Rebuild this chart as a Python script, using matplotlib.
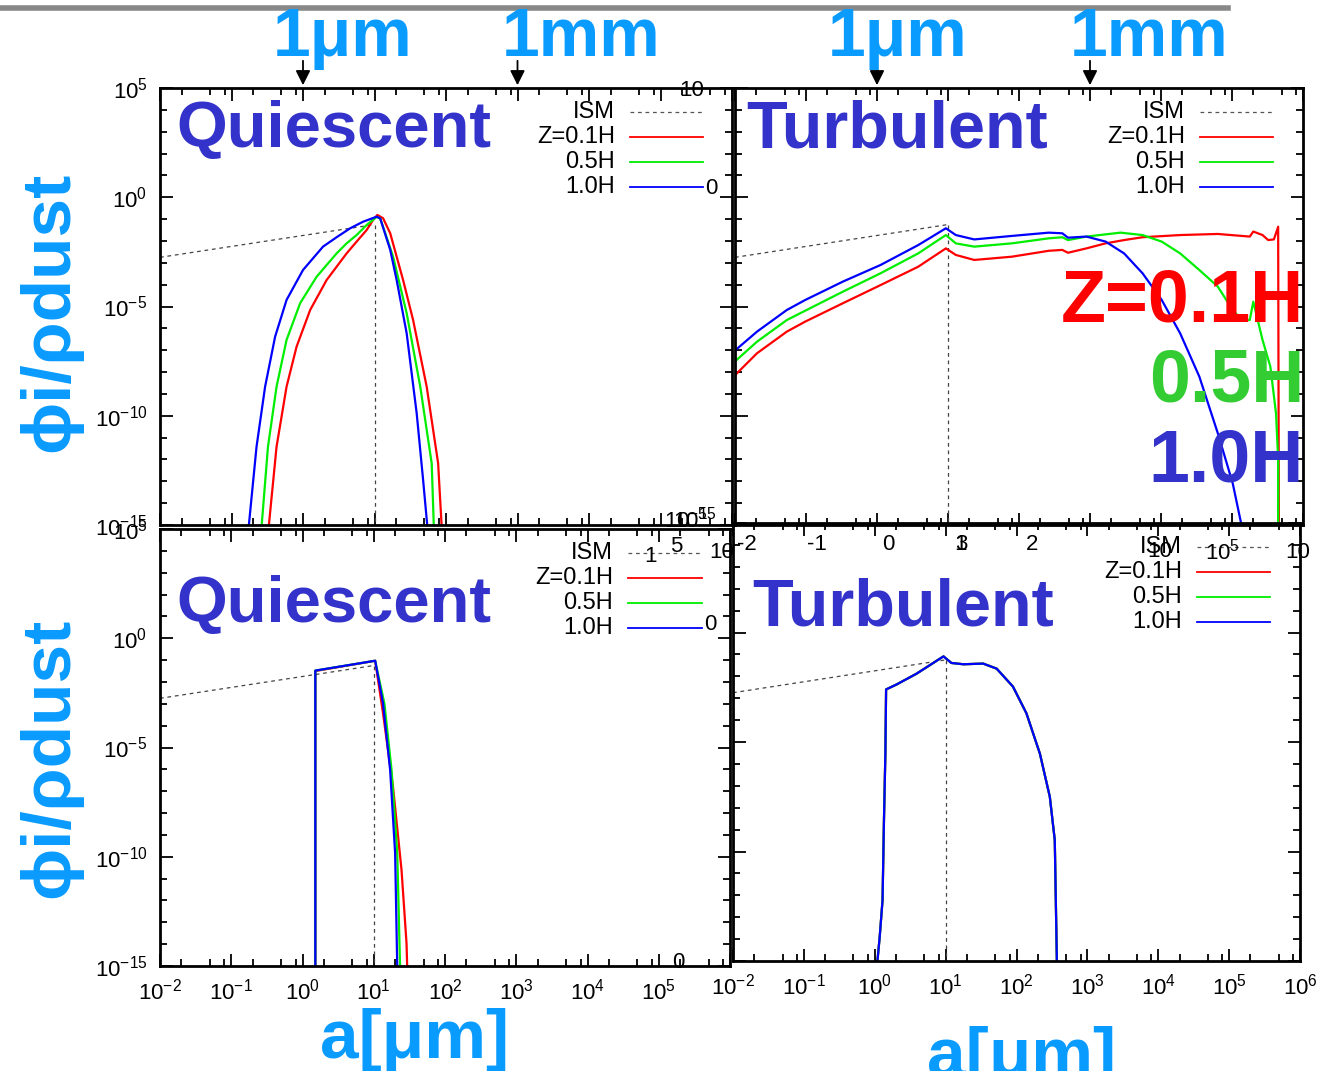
import math
import matplotlib
matplotlib.use("Agg")
import matplotlib.pyplot as plt
from matplotlib.lines import Line2D
from matplotlib.ticker import FixedLocator, NullFormatter, FuncFormatter

plt.rcParams['font.family'] = ['Liberation Sans', 'DejaVu Sans']
plt.rcParams['mathtext.fontset'] = 'custom'
plt.rcParams['mathtext.rm'] = 'Liberation Sans'
plt.rcParams['mathtext.default'] = 'regular'

# log10(a [um]) and log10(phi_i / rho_dust)
ism_loga = [-2.0, 1.0]
ism_logphi = [-2.75, -1.25]
ism_peak_loga = 1.0

# quiescent, top panel
q_red_loga = [-0.48, -0.37, -0.23, -0.09, 0.10, 0.33, 0.61, 0.75, 0.89, 0.98, 1.04, 1.12, 1.22, 1.31, 1.40, 1.54, 1.73, 1.89, 1.94]
q_red_logphi = [-15.1, -11.42, -8.67, -6.84, -5.16, -3.79, -2.57, -2.03, -1.50, -1.04, -0.81, -0.96, -1.65, -2.72, -3.79,
                -5.62, -8.67, -12.18, -15.1]
q_green_loga = [-0.58, -0.49, -0.37, -0.23, -0.04, 0.19, 0.47, 0.61, 0.75, 0.89, 1.03, 1.08, 1.26, 1.45, 1.64, 1.80, 1.83]
q_green_logphi = [-15.1, -11.42, -8.67, -6.53, -4.85, -3.64, -2.57, -2.11, -1.73, -1.27, -0.90, -0.97, -2.72, -5.31,
                  -8.67, -12.18, -15.1]
q_blue_loga = [-0.76, -0.65, -0.53, -0.39, -0.23, 0.00, 0.28, 0.47, 0.66, 0.84, 1.03, 1.08, 1.22, 1.31, 1.45, 1.59, 1.68, 1.74]
q_blue_logphi = [-15.1, -11.42, -8.67, -6.38, -4.70, -3.33, -2.26, -1.83, -1.42, -1.12, -0.89, -0.97, -2.41, -3.79,
                 -6.23, -9.89, -12.94, -15.1]

# turbulent, top panel
t_red_loga = [-2.02, -1.69, -1.27, -1.01, -0.48, 0.05, 0.58, 0.97, 1.11, 1.37, 1.90, 2.42, 2.61, 2.69,
              2.95, 3.22, 3.48, 3.74, 4.27, 4.80, 5.25, 5.30, 5.43, 5.51, 5.59, 5.65, 5.66]
t_red_logphi = [-8.21, -7.14, -6.15, -5.69, -4.85, -4.02, -3.18, -2.34, -2.64, -2.87, -2.72, -2.45, -2.41, -2.54,
                -2.34, -2.11, -1.96, -1.83, -1.73, -1.68, -1.80, -1.57, -1.73, -1.96, -1.93, -1.35, -15.1]
t_green_loga = [-2.02, -1.69, -1.27, -1.01, -0.48, 0.05, 0.58, 0.97, 1.11, 1.37, 1.90, 2.42, 2.61, 2.69, 2.95,
                3.43, 3.74, 4.01, 4.27, 4.54, 4.80, 5.01, 5.14, 5.25, 5.30, 5.43, 5.54, 5.62, 5.65, 5.65]
t_green_logphi = [-7.57, -6.61, -5.62, -5.19, -4.32, -3.48, -2.57, -1.73, -2.11, -2.26, -2.11, -1.88, -1.83, -1.96, -1.80,
                  -1.62, -1.73, -2.03, -2.57, -3.33, -4.09, -5.16, -5.62, -5.62, -4.78, -6.53, -7.75, -9.89, -12.0, -15.1]
t_blue_loga = [-2.02, -1.69, -1.27, -1.01, -0.48, 0.05, 0.58, 0.97, 1.11, 1.37, 1.90, 2.42, 2.61, 2.69, 2.95,
               3.22, 3.48, 3.74, 4.01, 4.27, 4.54, 4.80, 5.01, 5.14]
t_blue_logphi = [-7.07, -6.15, -5.16, -4.70, -3.86, -3.10, -2.19, -1.42, -1.73, -1.93, -1.77, -1.62, -1.65, -1.85, -1.80,
                 -2.03, -2.57, -3.48, -4.70, -6.23, -8.21, -10.80, -13.09, -15.1]

# quiescent, bottom panel
qb_red_loga = [0.18, 0.18, 1.02, 1.13, 1.27, 1.39, 1.46, 1.47]
qb_red_logphi = [-15.1, -1.50, -1.03, -3.43, -6.79, -10.61, -13.96, -15.1]
qb_green_loga = [0.18, 0.18, 1.02, 1.15, 1.25, 1.33, 1.37]
qb_green_logphi = [-15.1, -1.48, -1.03, -3.00, -6.03, -9.84, -15.1]
qb_blue_loga = [0.18, 0.18, 1.02, 1.13, 1.23, 1.30, 1.33]
qb_blue_logphi = [-15.1, -1.48, -1.03, -2.98, -6.03, -9.84, -15.1]

# turbulent, bottom panel (all three heights coincide)
tb_loga = [0.035, 0.07, 0.11, 0.13, 0.15, 0.16, 0.31, 0.59, 0.97, 1.08, 1.25, 1.53, 1.72, 1.95, 2.14, 2.33, 2.47, 2.54, 2.57]
tb_logphi = [-15.1, -13.89, -12.22, -8.57, -5.53, -2.60, -2.37, -1.88, -1.09, -1.39, -1.45, -1.42, -1.65, -2.47, -3.69,
             -5.53, -7.50, -9.48, -15.1]

legend_labels = ['ISM', 'Z=0.1H', '0.5H', '1.0H']
big_labels = ['Z=0.1H', '0.5H', '1.0H']

RED, GREEN, BLUE = '#ff0000', '#00ee00', '#0000ff'
TITLE_BLUE = '#3333cc'
SKY = '#0a9bff'

W, H = 1328, 1071
fig = plt.figure(figsize=(W / 100, H / 100), dpi=100)


def fx(px):
    return px / W


def fy(py):
    return 1 - py / H


def pow_label(v, p):
    return r'$10^{%d}$' % round(math.log10(v))


def panel(l, t, r, b):
    ax = fig.add_axes([fx(l), fy(b), fx(r) - fx(l), fy(t) - fy(b)])
    ax.set_xscale('log')
    ax.set_yscale('log')
    ax.set_xlim(1e-2, 1e6)
    ax.set_ylim(1e-15, 1e5)
    ax.xaxis.set_major_locator(FixedLocator([10.0 ** k for k in range(-2, 7)]))
    ax.xaxis.set_minor_locator(FixedLocator([m * 10.0 ** k for k in range(-2, 6) for m in (2, 5, 8)]))
    ax.yaxis.set_major_locator(FixedLocator([1e-15, 1e-10, 1e-5, 1e0, 1e5]))
    ax.yaxis.set_minor_locator(FixedLocator([10.0 ** k for k in range(-15, 6)]))
    ax.xaxis.set_minor_formatter(NullFormatter())
    ax.yaxis.set_minor_formatter(NullFormatter())
    ax.xaxis.set_major_formatter(FuncFormatter(pow_label))
    ax.yaxis.set_major_formatter(FuncFormatter(pow_label))
    ax.tick_params(which='both', direction='in', top=True, right=True, width=1.3, labelsize=16, colors='black')
    ax.tick_params(which='major', length=9, pad=9)
    ax.tick_params(which='minor', length=5)
    for s in ax.spines.values():
        s.set_linewidth(2)
    ax.patch.set_alpha(0)
    return ax


def pw(vals):
    return [10.0 ** v for v in vals]


def draw_ism(ax):
    ax.plot(pw(ism_loga), pw(ism_logphi), ls=(0, (3, 3)), color='#444444', lw=0.9)
    ax.plot(pw([ism_peak_loga, ism_peak_loga]), pw([ism_logphi[-1], -15]), ls=(0, (3, 3)), color='#444444', lw=0.9)


def legend(text_right, ys, line_l, line_r):
    for lab, y, col in zip(legend_labels, ys, ['#555555', RED, GREEN, BLUE]):
        fig.text(fx(text_right), fy(y), lab, ha='right', va='center', fontsize=17)
        ls = (0, (3, 3)) if lab == 'ISM' else '-'
        fig.add_artist(Line2D([fx(line_l), fx(line_r)], [fy(y), fy(y)], color=col,
                              lw=1.3 if lab != 'ISM' else 0.9, ls=ls))


# top-left: quiescent
ax1 = panel(160, 88, 732, 525)
draw_ism(ax1)
for la, lp, c in [(q_red_loga, q_red_logphi, RED), (q_green_loga, q_green_logphi, GREEN),
                  (q_blue_loga, q_blue_logphi, BLUE)]:
    ax1.plot(pw(la), pw(lp), color=c, lw=1.6)
ax1.tick_params(labelbottom=False)

# top-right: turbulent
ax2 = panel(735, 88, 1303, 525)
draw_ism(ax2)
for la, lp, c in [(t_red_loga, t_red_logphi, RED), (t_green_loga, t_green_logphi, GREEN),
                  (t_blue_loga, t_blue_logphi, BLUE)]:
    ax2.plot(pw(la), pw(lp), color=c, lw=1.6)
ax2.tick_params(labelbottom=False, labelleft=False)

# bottom-left: quiescent
ax3 = panel(160, 529, 730, 966)
draw_ism(ax3)
for la, lp, c in [(qb_red_loga, qb_red_logphi, RED), (qb_green_loga, qb_green_logphi, GREEN),
                  (qb_blue_loga, qb_blue_logphi, BLUE)]:
    ax3.plot(pw(la), pw(lp), color=c, lw=1.6)
ax3.xaxis.set_major_formatter(FuncFormatter(lambda v, p: pow_label(v, p) if v < 5e5 else ''))

# bottom-right: turbulent
ax4 = panel(733, 523, 1300, 961)
draw_ism(ax4)
for c in (RED, GREEN, BLUE):
    ax4.plot(pw(tb_loga), pw(tb_logphi), color=c, lw=1.6)
ax4.tick_params(labelleft=False)

# gray rule on top of the slide
fig.add_artist(Line2D([0, fx(1228)], [fy(8), fy(8)], color='#888888', lw=4))

# size markers with arrows
for ax, xs, txt_x in [(ax1, (1.0, 1e3), (343, 581)), (ax2, (1.0, 1e3), (898, 1149))]:
    for xv, tx, lab in zip(xs, txt_x, ['1μm', '1mm']):
        ax.annotate('', xy=(xv, 1e5), xytext=(0, 30), textcoords='offset pixels', annotation_clip=False,
                    arrowprops=dict(arrowstyle='-|>', color='black', lw=1.3, mutation_scale=22))
        fig.text(fx(tx), fy(56), lab, ha='center', va='baseline', fontsize=49, fontweight='bold', color=SKY)

# panel titles
fig.text(fx(176), fy(147), 'Quiescent', fontsize=47, fontweight='bold', color=TITLE_BLUE, va='baseline')
fig.text(fx(746), fy(147), 'Turbulent', fontsize=48, fontweight='bold', color=TITLE_BLUE, va='baseline')
fig.text(fx(176), fy(622), 'Quiescent', fontsize=47, fontweight='bold', color=TITLE_BLUE, va='baseline')
fig.text(fx(752), fy(625), 'Turbulent', fontsize=48, fontweight='bold', color=TITLE_BLUE, va='baseline')

# legends
legend(615, [112, 137, 162, 187], 630, 703)
legend(1185, [112, 137, 162, 187], 1200, 1273)
legend(613, [553, 578, 603, 628], 628, 702)
legend(1182, [547, 572, 597, 622], 1197, 1270)

# large curve labels in the turbulent panel
for lab, yb, col in zip(big_labels, [322, 402, 482], [RED, '#33cc33', TITLE_BLUE]):
    fig.text(fx(1304), fy(yb), lab, ha='right', va='baseline', fontsize=53, fontweight='bold', color=col)

# axis titles
for yc in (312, 758):
    fig.text(fx(50), fy(yc), 'ϕi/ρdust', rotation=90, ha='center', va='center', fontsize=50,
             fontweight='bold', color=SKY)
fig.text(fx(415), fy(1040), 'a[μm]', ha='center', va='center', fontsize=50, fontweight='bold', color=SKY)
fig.text(fx(1022), fy(1058), 'a[μm]', ha='center', va='center', fontsize=50, fontweight='bold', color=SKY)

# stray overlapping tick labels seen in the original
stray = [(692, 91, '10'), (711, 189, '0'), (710, 625, '0'), (678, 963, '0'),
         (690, 520, r'$10^{-15}$'), (690, 520, r'$10^{5}$'),
         (650, 556, '1'), (676, 546, '5'), (722, 553, '10'),
         (747, 544, '-2'), (817, 544, '-1'), (888, 544, '0'), (961, 544, '1'), (961, 544, '3'), (1032, 544, '2'),
         (1160, 552, '10'), (1222, 552, r'$10^{5}$'), (1298, 553, '10')]
for px, py, s in stray:
    fig.text(fx(px), fy(py), s, ha='center', va='center', fontsize=16)

fig.savefig('out.png', dpi=100)
